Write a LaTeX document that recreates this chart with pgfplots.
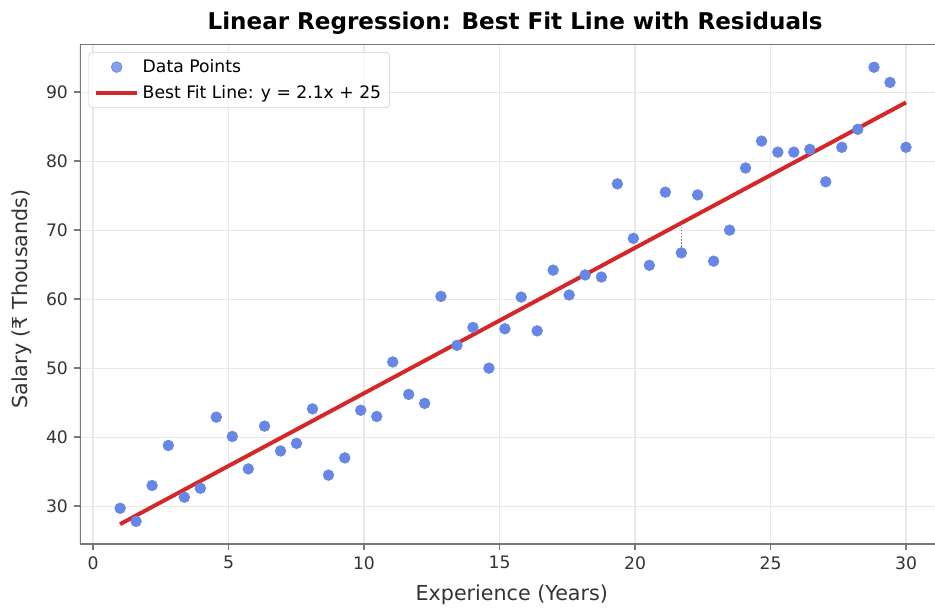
\documentclass[border=0pt]{standalone}
\usepackage{fontspec}
\setmainfont{DejaVu Sans}
\usepackage{pgfplots}
\usepackage{pgfplotstable}
\pgfplotsset{compat=1.18}

\definecolor{ptblue}{RGB}{103,135,231}
\definecolor{fitred}{RGB}{214,39,40}
\definecolor{spine}{RGB}{120,120,120}

\pgfplotsset{
  dotlegend/.style={legend image code/.code={\draw[##1] plot coordinates {(12pt,0pt)};}},
  linelegend/.style={legend image code/.code={\draw[##1] (0pt,0pt) -- (24pt,0pt);}},
}

% experience (years) vs salary (thousands)
\pgfplotstableread{
x y
1.00 29.7
1.59 27.8
2.18 33.0
2.78 38.8
3.37 31.3
3.96 32.6
4.55 42.9
5.14 40.1
5.73 35.4
6.33 41.6
6.92 38.0
7.51 39.1
8.10 44.1
8.69 34.5
9.29 37.0
9.88 43.9
10.47 43.0
11.06 50.9
11.65 46.2
12.24 44.9
12.84 60.4
13.43 53.3
14.02 55.9
14.61 50.0
15.20 55.7
15.80 60.3
16.39 55.4
16.98 64.2
17.57 60.6
18.16 63.5
18.76 63.2
19.35 76.7
19.94 68.8
20.53 64.9
21.12 75.5
21.71 66.7
22.31 75.1
22.90 65.5
23.49 70.0
24.08 79.0
24.67 82.9
25.27 81.3
25.86 81.3
26.45 81.7
27.04 77.0
27.63 82.0
28.22 84.6
28.82 93.6
29.41 91.4
30.00 82.0
}\pointdata

\begin{document}
\begin{tikzpicture}
\begin{axis}[name=ax,
    scale only axis,
    width=497pt, height=290.7pt,
    xmin=-0.48, xmax=31.07,
    ymin=24.5, ymax=96.96,
    xtick={0,5,...,30},
    ytick={30,40,...,90},
    tick align=outside,
    xtick pos=bottom, ytick pos=left,
    major tick length=3.5pt,
    tick style={spine, line width=0.8pt},
    grid=major,
    grid style={gray!18, line width=0.6pt},
    axis line style={draw=none},
    ticklabel style={font=\fontsize{10}{12}\selectfont, text=black!80},
    /pgf/number format/assume math mode=true,
    title={Linear Regression: Best Fit Line with Residuals},
    title style={font=\fontsize{13.4}{16}\selectfont\bfseries,
        at={(axis description cs:0.509,1.03)}, anchor=base, yshift=-6pt},
    xlabel={Experience (Years)},
    xlabel style={font=\fontsize{12}{14}\selectfont, text=black!80,
        at={(axis description cs:0.505,-0.112)}, anchor=base},
    ylabel={Salary (₹ Thousands)},
    ylabel style={font=\fontsize{12}{14}\selectfont, text=black!80,
        at={(axis description cs:-0.0677,0.49)}, anchor=center},
    legend style={at={(axis description cs:0.01,0.984)}, anchor=north west,
        font=\fontsize{10}{12}\selectfont, draw=gray!35, rounded corners=2pt,
        fill=white, fill opacity=0.8, text opacity=1,
        row sep=2pt, inner xsep=3pt, inner ysep=2pt},
    legend cell align=left,
]
\addplot[only marks, mark=*, mark size=3.1pt, draw=none,
    mark options={draw=ptblue, fill=ptblue}, dotlegend]
    table[x=x, y=y] {\pointdata};
\addlegendentry{Data Points}

\addplot[fitred, line width=2.3pt, linelegend]
    coordinates {(1,27.4) (30,88.5)};
\addlegendentry{Best Fit Line: y = 2.1x + 25}

% residual segment
\addplot[gray, densely dotted, line width=0.8pt, forget plot]
    coordinates {(21.71,66.7) (21.71,71.1)};

\draw[spine, line width=1.2pt] (rel axis cs:0,1) -- (rel axis cs:0,0) -- (rel axis cs:1,0);
\draw[spine, line width=1.2pt] (rel axis cs:0,1) -- (rel axis cs:1,1);
\end{axis}
\pgfresetboundingbox
\path[use as bounding box] ([xshift=-46.5pt,yshift=-37.2pt]ax.south west) rectangle ([yshift=25.6pt]ax.north east);
\end{tikzpicture}
\end{document}
